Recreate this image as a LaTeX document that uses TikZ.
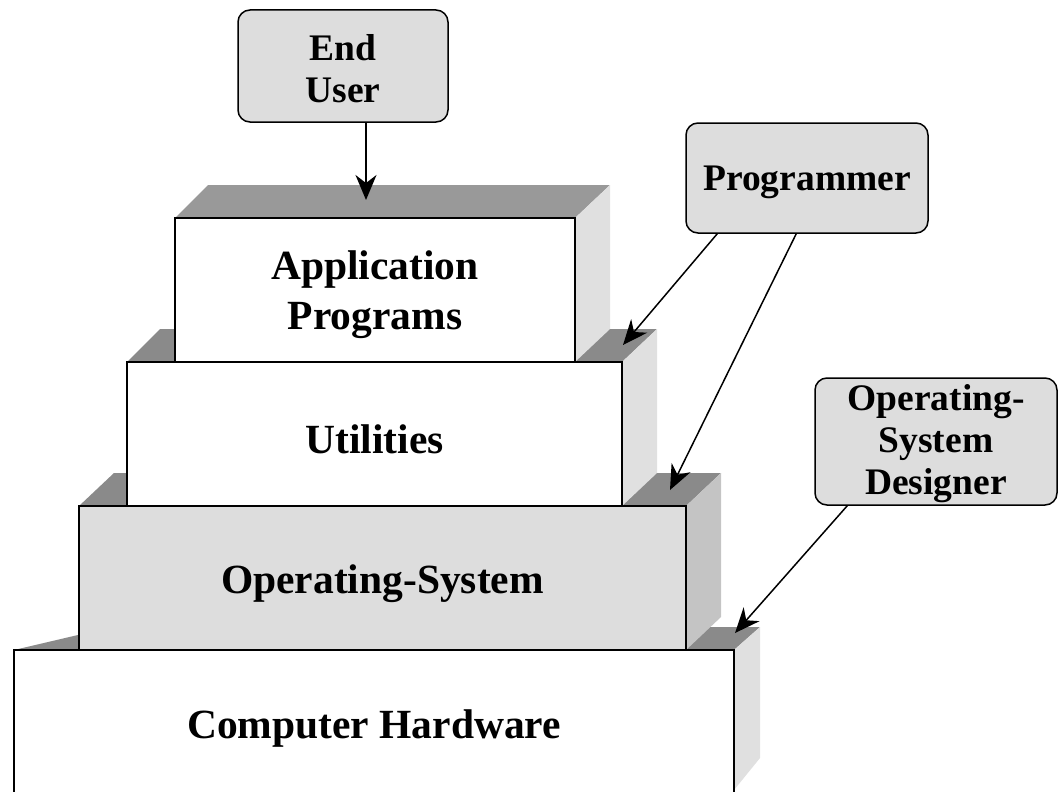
\documentclass[tikz,border=0pt]{standalone}
\usepackage{fontspec}
\setmainfont{Liberation Serif}
\usetikzlibrary{arrows.meta}
\definecolor{facelight}{HTML}{DDDDDD}
\definecolor{sidelight}{HTML}{E0E0E0}
\definecolor{sidemid}{HTML}{C4C4C4}
\definecolor{topdark}{HTML}{8A8A8A}
\definecolor{topapp}{HTML}{999999}
\tikzset{
  layer/.style={draw, line width=1.5pt, inner sep=0pt},
  layertext/.style={inner sep=0pt, align=center,
    font=\fontsize{41.5}{50}\selectfont\bfseries},
  callout/.style={draw, line width=1.5pt, fill=facelight, rounded corners=12pt,
    inner sep=0pt},
  callouttext/.style={inner sep=0pt, align=center,
    font=\fontsize{37.5}{42}\selectfont\bfseries},
  pointer/.style={line width=1.5pt, -{Stealth[length=25pt,width=21pt,inset=8pt]}}
}
\begin{document}
\begin{tikzpicture}[x=1pt,y=-1pt]
\useasboundingbox (0,0) rectangle (1060,792);
\clip (0,0) rectangle (1060,792);

% Computer hardware (bottom layer)
\fill[topdark] (14,650) -- (112,627) -- (760,627) -- (734,650) -- cycle;
\fill[sidelight] (734,650) -- (760,627) -- (760,758) -- (734,790) -- cycle;
\node[layer, fill=white, minimum width=720pt, minimum height=150pt] (hw) at (374,725) {};
\node[layertext] (hwText) at ([yshift=-4pt]hw.center) {Computer Hardware};

% Operating system layer
\fill[topdark] (79,506) -- (114,473) -- (721,473) -- (686,506) -- cycle;
\fill[sidemid] (686,506) -- (721,473) -- (721,617) -- (686,650) -- cycle;
\node[layer, fill=facelight, minimum width=607pt, minimum height=144pt] (os) at (382.5,578) {};
\node[layertext] (osText) at ([yshift=-6pt]os.center) {Operating-System};

% Utilities layer
\fill[topdark] (127,362) -- (160,329) -- (657,329) -- (622,362) -- cycle;
\fill[sidelight] (622,362) -- (657,329) -- (657,473) -- (622,506) -- cycle;
\node[layer, fill=white, minimum width=495pt, minimum height=144pt] (util) at (374.5,434) {};
\node[layertext] (utilText) at ([yshift=-5pt]util.center) {Utilities};

% Application programs layer
\fill[topapp] (175,218) -- (208,185) -- (610,185) -- (575,218) -- cycle;
\fill[sidelight] (575,218) -- (610,185) -- (610,329) -- (575,362) -- cycle;
\node[layer, fill=white, minimum width=400pt, minimum height=144pt] (app) at (375,290) {};
\node[layertext] (appText) at ([yshift=-5pt]app.center) {Application\\Programs};

% Users of each layer
\node[callout, minimum width=210pt, minimum height=112pt] (user) at (343,66) {};
\node[callouttext] (userText) at ([yshift=-3pt]user.center) {End\\User};
\node[callout, minimum width=242pt, minimum height=110pt] (prog) at (807,178) {};
\node[callouttext] (progText) at ([yshift=-4pt]prog.center) {Programmer};
\node[callout, minimum width=242pt, minimum height=127pt] (osd) at (936,441.5) {};
\node[callouttext] (osdText) at ([yshift=-2pt]osd.center) {Operating-\\System\\Designer};

% Points where the arrows land on the top faces
\coordinate (appTop) at (366,200);
\coordinate (utilTop) at (623,345);
\coordinate (osTop) at (670,490);
\coordinate (hwTop) at (735,633);

\draw[pointer] (user.south -| appTop) -- (appTop);
\draw[pointer] ([xshift=32pt]prog.south west) -- (utilTop);
\draw[pointer] ([xshift=111pt]prog.south west) -- (osTop);
\draw[pointer] ([xshift=33pt]osd.south west) -- (hwTop);
\end{tikzpicture}
\end{document}
